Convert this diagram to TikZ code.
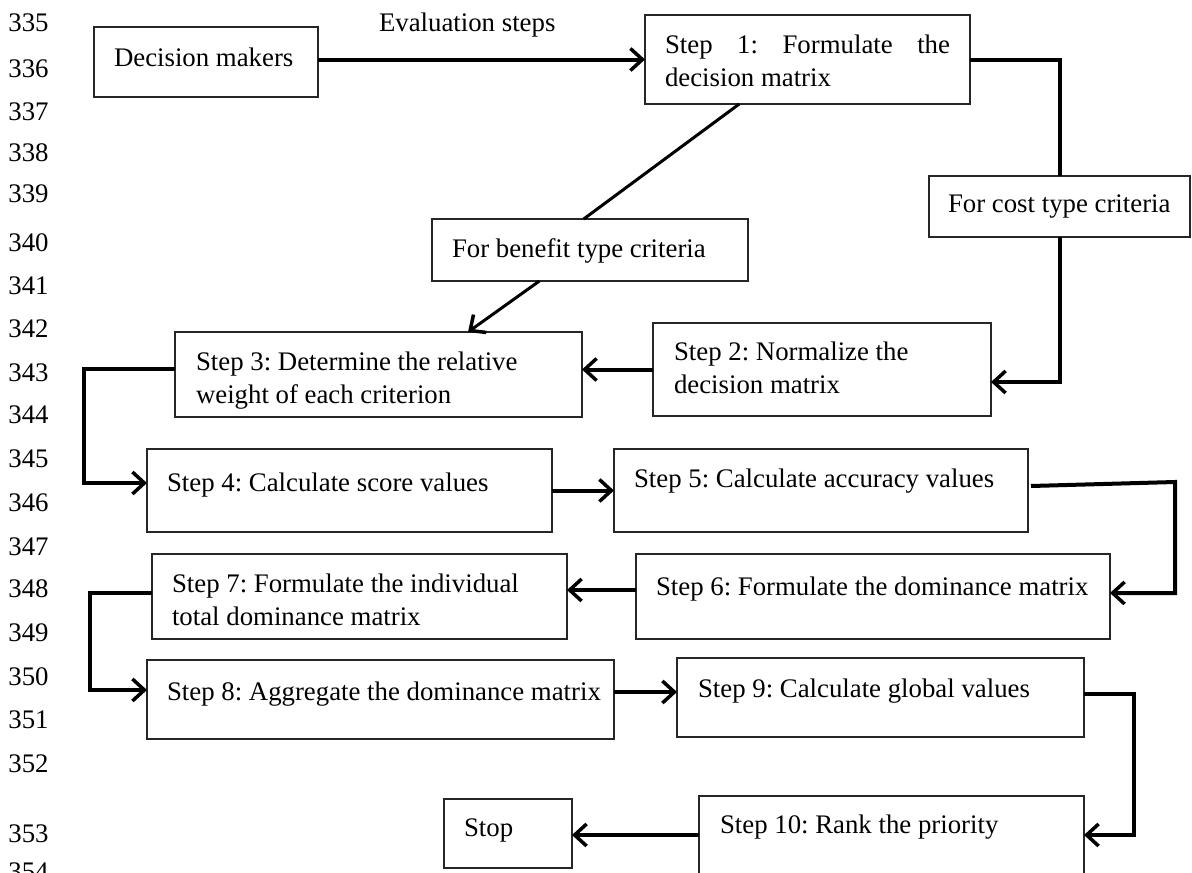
\documentclass[tikz,border=0pt]{standalone}
\usepackage{fontspec}
\setmainfont{Liberation Serif}
\usetikzlibrary{arrows.meta,calc}
\frenchspacing
\tikzset{
 box/.style={draw=black!85, line width=1.3pt, inner sep=0pt, outer sep=0pt, rectangle},
 txt/.style={inner sep=0pt, outer sep=0pt, anchor=north west, align=left, font=\fontsize{26.8}{33.5}\selectfont\frenchspacing},
 conn/.style={line width=4pt, line join=miter},
 thinconn/.style={line width=3pt},
 arr/.style={-{Straight Barb[length=12pt,width=22pt,line width=3.5pt]}},
}
\newcommand\bx[5]{\node[box, anchor=north west, minimum width={#4-#2}, minimum height={#5-#3}] (#1) at (#2,#3) {};}
\newcommand\tx[4]{\node[txt] (#1) at (#2,{#3-18.4}) {#4};}
\begin{document}
\begin{tikzpicture}[x=1pt,y=-1pt]
\useasboundingbox (0,0) rectangle (1192,873);
% line numbers
\foreach \n/\yy in {335/32,336/78,337/121,338/162,339/203,340/252,341/295,342/338,343/382,344/424,345/468,346/512,347/556,348/598,349/642,350/686,351/729,352/773,353/843,354/881}
  \node[txt] (ln\n) at (8.4,{\yy-18.4}) {\n};
% boxes
\bx{dm}{94}{27}{318}{97}
\bx{s1}{645}{15}{970}{104}
\bx{cost}{929}{176}{1190}{237}
\bx{ben}{432}{219}{748}{281}
\bx{s2}{653}{323}{991}{416}
\bx{s3}{175}{332}{582}{417}
\bx{s4}{147}{449}{552}{532}
\bx{s5}{614}{449}{1028}{532}
\bx{s6}{636}{554}{1110}{639}
\bx{s7}{152}{554}{567}{639}
\bx{s8}{147}{660}{614}{739}
\bx{s9}{677}{658}{1084}{737}
\bx{s10}{699}{796}{1084}{890}
\bx{stop}{444}{799}{572}{868}
% texts
\tx{dmt}{114}{66}{Decision makers}
\tx{evt}{379}{31}{Evaluation steps}
\tx{s1t}{665}{53}{\makebox[285pt][s]{Step 1: Formulate the}\\decision matrix}
\tx{costt}{948}{213}{For cost type criteria}
\tx{bent}{452}{257}{For benefit type criteria}
\tx{s2t}{674}{360}{Step 2: Normalize the\\decision matrix}
\tx{s3t}{196}{370}{Step 3: Determine the relative\\weight of each criterion}
\tx{s4t}{167}{491}{Step 4: Calculate score values}
\tx{s5t}{634}{487}{Step 5: Calculate accuracy values}
\tx{s6t}{656}{595}{Step 6: Formulate the dominance matrix}
\tx{s7t}{172}{592}{Step 7: Formulate the individual\\total dominance matrix}
\tx{s8t}{167}{700}{Step 8: Aggregate the dominance matrix}
\tx{s9t}{698}{697}{Step 9: Calculate global values}
\tx{s10t}{720}{833}{Step 10: Rank the priority}
\tx{stopt}{464}{837}{Stop}
% connectors
\coordinate (c5) at (1175,482);
\draw[conn,arr] (dm.east |- s1.west) -- (s1.west);
\draw[conn] (s1.east) -| (cost.north);
\draw[conn,arr] (cost.south) |- ([yshift=-12.5pt]s2.east);
\draw[conn,arr] (s2.west) -- (s2.west -| s3.east);
\draw[thinconn] ($(s1.south west)!0.29!(s1.south east)$) -- ($(ben.north west)!0.48!(ben.north east)$);
\draw[thinconn,arr] ($(ben.south west)!0.34!(ben.south east)$) -- ($(s3.north west)!0.72!(s3.north east)$);
\draw[conn,arr] ([yshift=5.5pt]s3.west) -- ++(-91,0) |- ([yshift=7.5pt]s4.west);
\draw[conn,arr] (s4.east) -- (s5.west);
\draw[conn,arr] ([xshift=3pt,yshift=4.5pt]s5.east) -- (c5) |- ([yshift=3.5pt]s6.east);
\draw[conn,arr] ([yshift=6.5pt]s6.west) -- ([yshift=6.5pt]s7.east);
\draw[conn,arr] ([yshift=3.5pt]s7.west) -- ++(-62,0) |- ([yshift=9.5pt]s8.west);
\draw[conn,arr] ([yshift=7.5pt]s8.east) -- ([yshift=5.5pt]s9.west);
\draw[conn,arr] ([yshift=3.5pt]s9.east) -- ++(50,0) |- ([yshift=8pt]s10.east);
\draw[conn,arr] ([yshift=8pt]s10.west) -- ([yshift=-1.5pt]stop.east);
\end{tikzpicture}
\end{document}
